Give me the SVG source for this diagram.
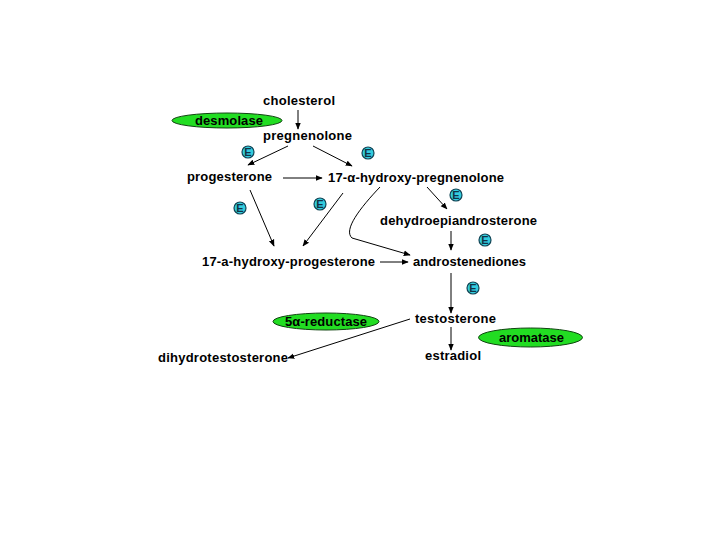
<svg xmlns="http://www.w3.org/2000/svg" width="720" height="540" viewBox="0 0 720 540">
<style>
text{font-family:"Liberation Sans",Arial,sans-serif;font-size:13px;font-weight:bold;fill:#000}
.enz{fill:#22dd22;stroke:#114411;stroke-width:1}
.e circle{fill:#33ccdd;stroke:#114455;stroke-width:1.2}
.e text{font-size:11px;fill:#113344;text-anchor:middle}
.c{fill:none;stroke:#000;stroke-width:1;marker-end:url(#ah)}
</style>
<defs>
<marker id="ah" viewBox="0 0 10 10" refX="9" refY="5" markerWidth="7" markerHeight="7" orient="auto" markerUnits="userSpaceOnUse">
<path d="M0,1 L10,5 L0,9 z" fill="#000"/>
</marker>
</defs>
<rect width="720" height="540" fill="#fff"/>
<g id="connectors">
<line class="c" x1="298" y1="110" x2="298" y2="129"/>
<line class="c" x1="288" y1="146" x2="248" y2="165"/>
<line class="c" x1="313" y1="146" x2="352" y2="166"/>
<line class="c" x1="283" y1="178" x2="322" y2="178"/>
<line class="c" x1="250" y1="190" x2="274" y2="246"/>
<line class="c" x1="343" y1="193" x2="303" y2="246"/>
<line class="c" x1="427" y1="187" x2="447" y2="209"/>
<path class="c" d="M380,187 C360,208 343,230 352,238 L410,255"/>
<line class="c" x1="380" y1="262" x2="408" y2="262"/>
<line class="c" x1="451" y1="231" x2="451" y2="250"/>
<line class="c" x1="451" y1="273" x2="451" y2="313"/>
<line class="c" x1="451" y1="327" x2="451" y2="350"/>
<line class="c" x1="410" y1="319" x2="288" y2="358"/>
</g>
<g id="cholesterol"><text x="263" y="105" textLength="72" lengthAdjust="spacing">cholesterol</text></g>
<g id="desmolase"><ellipse class="enz" cx="227" cy="120.5" rx="55" ry="7.5"/><text x="195" y="125" textLength="68" lengthAdjust="spacing">desmolase</text></g>
<g id="pregnenolone"><text x="263" y="140" textLength="89" lengthAdjust="spacing">pregnenolone</text></g>
<g id="progesterone"><text x="187" y="181" textLength="85" lengthAdjust="spacing">progesterone</text></g>
<g id="hydroxypregnenolone"><text x="328" y="182" textLength="176" lengthAdjust="spacing">17-α-hydroxy-pregnenolone</text></g>
<g id="dhea"><text x="380" y="225" textLength="157" lengthAdjust="spacing">dehydroepiandrosterone</text></g>
<g id="hydroxyprogesterone"><text x="202" y="266" textLength="173" lengthAdjust="spacing">17-a-hydroxy-progesterone</text></g>
<g id="androstenediones"><text x="413" y="266" textLength="113" lengthAdjust="spacing">androstenediones</text></g>
<g id="testosterone"><text x="415" y="323" textLength="81" lengthAdjust="spacing">testosterone</text></g>
<g id="reductase"><ellipse class="enz" cx="326" cy="321.5" rx="53" ry="8.5"/><text x="285" y="326" textLength="82" lengthAdjust="spacing">5α-reductase</text></g>
<g id="aromatase"><ellipse class="enz" cx="530.5" cy="337.5" rx="52" ry="9.5"/><text x="499" y="342" textLength="65" lengthAdjust="spacing">aromatase</text></g>
<g id="dihydrotestosterone"><text x="158" y="362" textLength="130" lengthAdjust="spacing">dihydrotestosterone</text></g>
<g id="estradiol"><text x="425" y="360" textLength="56" lengthAdjust="spacing">estradiol</text></g>
<g id="e1" class="e"><circle cx="248" cy="152" r="6"/><text x="248" y="156">E</text></g>
<g id="e2" class="e"><circle cx="368" cy="153" r="6"/><text x="368" y="157">E</text></g>
<g id="e3" class="e"><circle cx="240" cy="208" r="6"/><text x="240" y="212">E</text></g>
<g id="e4" class="e"><circle cx="320" cy="204" r="6"/><text x="320" y="208">E</text></g>
<g id="e5" class="e"><circle cx="456" cy="195" r="6"/><text x="456" y="199">E</text></g>
<g id="e6" class="e"><circle cx="485" cy="240" r="6"/><text x="485" y="244">E</text></g>
<g id="e7" class="e"><circle cx="473" cy="288" r="6"/><text x="473" y="292">E</text></g>
</svg>
